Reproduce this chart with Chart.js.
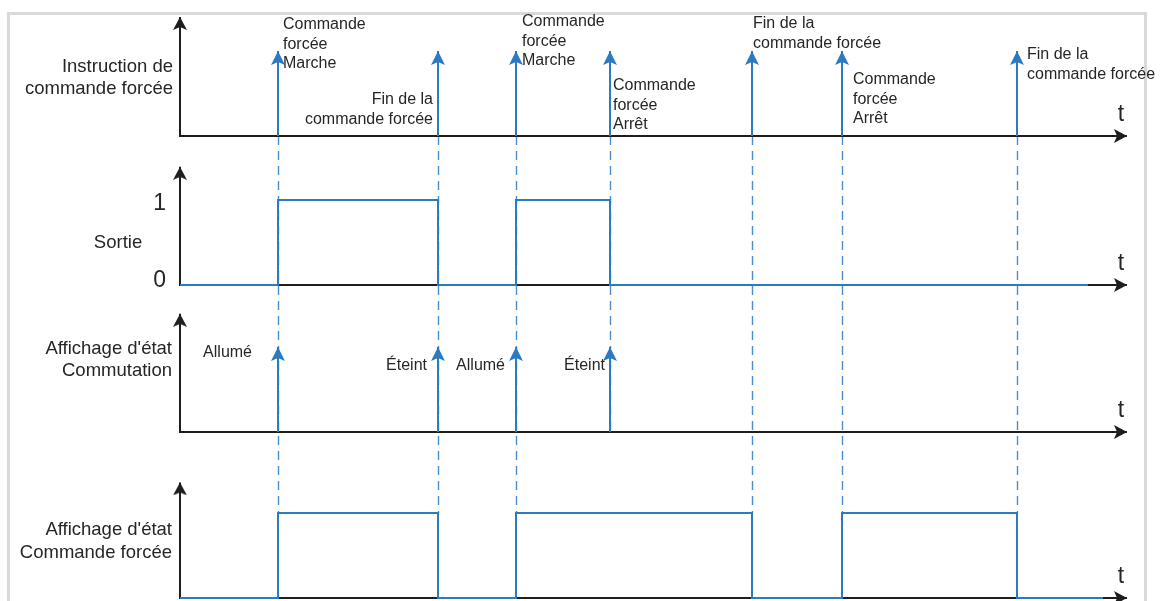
<!DOCTYPE html>
<html><head><meta charset="utf-8">
<script src="https://cdn.jsdelivr.net/npm/chart.js@4.4.0/dist/chart.umd.min.js"></script>
<style>html,body{margin:0;padding:0;background:#fff;}#wrap{width:1163px;height:601px;}</style>
</head><body><div id="wrap"><canvas id="c" width="1163" height="601"></canvas></div>
<script>
// ---- data (time units) ----
const eventTimes = [9.8, 25.8, 33.6, 43.0, 57.2, 66.2, 83.7];
const instructionLabels = [
  ["Commande", "forcée", "Marche"],
  ["Fin de la", "commande forcée"],
  ["Commande", "forcée", "Marche"],
  ["Commande", "forcée", "Arrêt"],
  ["Fin de la", "commande forcée"],
  ["Commande", "forcée", "Arrêt"],
  ["Fin de la", "commande forcée"]
];
const sortieLevels = [1, 0, 1, 0, 0, 0, 0];   // level after each event
const sortieEnd = 90.8;
const commutationTimes = [9.8, 25.8, 33.6, 43.0];
const commutationLabels = ["Allumé", "Éteint", "Allumé", "Éteint"];
const forcedLevels = [1, 0, 1, 1, 0, 1, 0];   // level after each event
const forcedEnd = 92.3;
const axisEnd = 94.7;
const panelNames = [["Instruction de", "commande forcée"], ["Sortie"], ["Affichage d'état", "Commutation"], ["Affichage d'état", "Commande forcée"]];
const sortieTicks = ["0", "1"];

// ---- layout / style ----
const W = 1163, H = 601, X0 = 180, PXU = 10, UNIT = 85;
const baselines = [136, 285, 432, 598];
const axisTops = [1.40, 1.39, 1.39, 1.36];
const BLUE = '#2b7bc0', DASH = '#4a8fcc', BLACK = '#1e1e1e', TXT = '#262626';
const FONT = '"Liberation Sans", Arial, sans-serif';
const instrLayout = [
  {dx: 5, y: 25, align: 'left'}, {dx: -5, y: 100, align: 'right'}, {dx: 6, y: 22, align: 'left'},
  {dx: 3, y: 86, align: 'left'}, {dx: 1, y: 24, align: 'left'}, {dx: 11, y: 80, align: 'left'},
  {dx: 10, y: 55, align: 'left'}
];
const commLayout = [{dx: -26, y: 353}, {dx: -11, y: 366}, {dx: -11, y: 366}, {dx: -5, y: 366}];
const nameLayout = [
  {x: 173, align: 'right', dy: [-69, -47]}, {x: 118, align: 'center', dy: [-42]},
  {x: 172, align: 'right', dy: [-83, -61]}, {x: 172, align: 'right', dy: [-68, -45]}
];
const dashEndPanel = [3, 3, 3, 2, 3, 3, 3]; // panel index where dashed guide stops
const dashEndLevel = [1, 1, 1, 0, 1, 1, 1];

function makeHead(color, hw, hh, notch) {
  const c = document.createElement('canvas');
  c.width = hw * 2 + 2; c.height = hh * 2;
  const g = c.getContext('2d'); const cx = c.width / 2;
  g.fillStyle = color; g.beginPath();
  g.moveTo(cx, hh); g.lineTo(cx + hw, hh * 2); g.lineTo(cx, hh * 2 - notch); g.lineTo(cx - hw, hh * 2);
  g.closePath(); g.fill(); return c;
}
const blueHead = makeHead(BLUE, 7, 14, 3);
const blackHead = makeHead(BLACK, 7, 13, 3);

function stepData(levels, end) {
  const d = [{x: 0, y: 0}];
  eventTimes.forEach((t, i) => d.push({x: t, y: levels[i]}));
  d.push({x: end, y: levels[levels.length - 1]});
  return d;
}
function arrowData(times) {
  const d = [];
  times.forEach(t => { d.push({x: t, y: 0}, {x: t, y: 1}, {x: t, y: null}); });
  return d;
}
const axisIds = ['y1', 'y2', 'y3', 'y4'];
const datasets = [];
axisIds.forEach((id, i) => {
  datasets.push({
    data: [{x: 0, y: axisTops[i]}, {x: 0, y: 0}, {x: axisEnd, y: 0}], yAxisID: id,
    borderColor: BLACK, borderWidth: 2, order: 10, tension: 0,
    pointStyle: blackHead, pointRadius: c => c.dataIndex === 1 ? 0 : 1,
    pointRotation: c => c.dataIndex === 2 ? 90 : 0
  });
});
datasets.push({data: arrowData(eventTimes), yAxisID: 'y1', borderColor: BLUE, borderWidth: 2, spanGaps: false, order: 1,
  pointStyle: blueHead, pointRadius: c => (c.raw && c.raw.y === 1) ? 1 : 0});
datasets.push({data: stepData(sortieLevels, sortieEnd), yAxisID: 'y2', borderColor: BLUE, borderWidth: 2, stepped: 'before', pointRadius: 0, order: 1});
datasets.push({data: arrowData(commutationTimes), yAxisID: 'y3', borderColor: BLUE, borderWidth: 2, spanGaps: false, order: 1,
  pointStyle: blueHead, pointRadius: c => (c.raw && c.raw.y === 1) ? 1 : 0});
datasets.push({data: stepData(forcedLevels, forcedEnd), yAxisID: 'y4', borderColor: BLUE, borderWidth: 2, stepped: 'before', pointRadius: 0, order: 1});

const scales = {x: {type: 'linear', display: false, min: -X0 / PXU, max: (W - X0) / PXU}};
axisIds.forEach((id, i) => {
  const b = baselines[i];
  scales[id] = {type: 'linear', axis: 'y', display: false, min: -(H - b) / UNIT, max: b / UNIT};
});

const diagramPlugin = {
  id: 'diagram',
  beforeDraw(chart) {
    const ctx = chart.ctx;
    ctx.save(); ctx.fillStyle = '#fff'; ctx.fillRect(0, 0, W, H);
    ctx.fillStyle = '#d9d9d9';
    ctx.fillRect(7, 12, 3, H); ctx.fillRect(7, 12, 1140, 3); ctx.fillRect(1144, 12, 3, H);
    ctx.restore();
  },
  beforeDatasetsDraw(chart) {
    const ctx = chart.ctx, sx = chart.scales.x;
    ctx.save(); ctx.strokeStyle = DASH; ctx.lineWidth = 1.4; ctx.setLineDash([9, 6]);
    eventTimes.forEach((t, i) => {
      const x = Math.round(sx.getPixelForValue(t)) + 0.5;
      const y0 = chart.scales.y1.getPixelForValue(0);
      const y1 = chart.scales[axisIds[dashEndPanel[i]]].getPixelForValue(dashEndLevel[i]);
      ctx.beginPath(); ctx.moveTo(x, y0); ctx.lineTo(x, y1); ctx.stroke();
    });
    ctx.restore();
  },
  afterDatasetsDraw(chart) {
    const ctx = chart.ctx, sx = chart.scales.x;
    ctx.save(); ctx.fillStyle = TXT; ctx.textBaseline = 'middle';
    ctx.font = '16px ' + FONT;
    eventTimes.forEach((t, i) => {
      const L = instrLayout[i]; ctx.textAlign = L.align;
      instructionLabels[i].forEach((s, k) => ctx.fillText(s, sx.getPixelForValue(t) + L.dx, L.y + k * 19.3));
    });
    commutationTimes.forEach((t, i) => {
      ctx.textAlign = 'right';
      ctx.fillText(commutationLabels[i], sx.getPixelForValue(t) + commLayout[i].dx, commLayout[i].y);
    });
    ctx.font = '18.5px ' + FONT;
    panelNames.forEach((lines, i) => {
      const L = nameLayout[i]; ctx.textAlign = L.align;
      const b = chart.scales[axisIds[i]].getPixelForValue(0);
      lines.forEach((s, k) => ctx.fillText(s, L.x, b + L.dy[k]));
    });
    ctx.font = '23px ' + FONT; ctx.textAlign = 'right';
    ctx.fillText(sortieTicks[1], 166, chart.scales.y2.getPixelForValue(1) + 4);
    ctx.fillText(sortieTicks[0], 166, chart.scales.y2.getPixelForValue(0) - 4);
    ctx.textAlign = 'center';
    axisIds.forEach(id => ctx.fillText('t', 1121, chart.scales[id].getPixelForValue(0) - 21));
    ctx.restore();
  }
};

new Chart(document.getElementById('c'), {
  type: 'line',
  data: {datasets},
  options: {
    responsive: false, animation: false, events: [],
    layout: {padding: 0, autoPadding: false},
    plugins: {legend: {display: false}, tooltip: {enabled: false}},
    elements: {line: {tension: 0, borderCapStyle: 'butt'}},
    scales
  },
  plugins: [diagramPlugin]
});
</script></body></html>
